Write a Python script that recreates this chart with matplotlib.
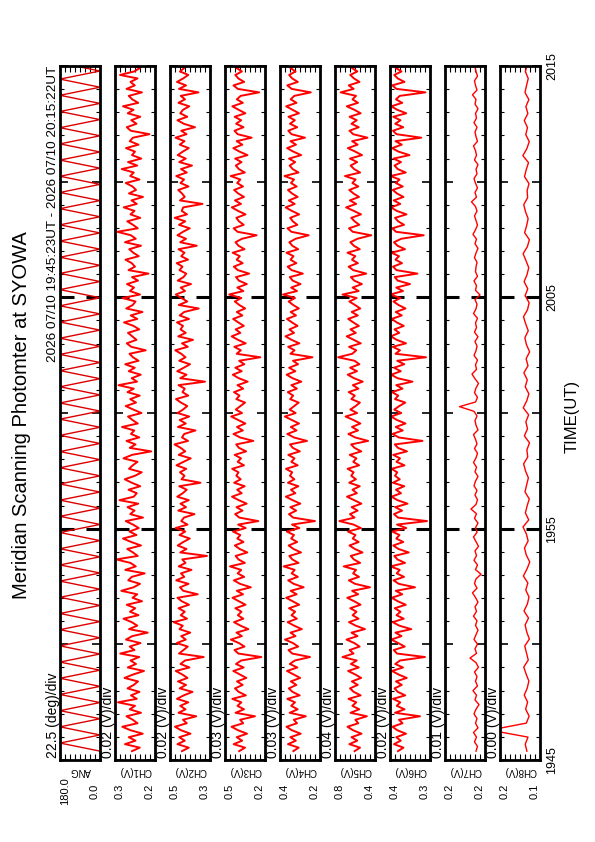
import matplotlib

matplotlib.use("Agg")

import matplotlib.pyplot as plt
import matplotlib.transforms as mtransforms
import numpy as np
from matplotlib.ticker import FixedLocator, MultipleLocator

plt.rcParams["font.family"] = ["Liberation Sans", "DejaVu Sans"]

W, H = 595, 842

title = "Meridian Scanning Photomter at SYOWA"
period = "2026 07/10 19:45:23UT - 2026 07/10 20:15:22UT"
time_ticks = [0, 10, 20, 30]  # minutes after 19:45
time_labels = ["1945", "1955", "2005", "2015"]
start_sec, end_sec = 23, 1822

panel_names = ["ANG", "CH1(V)", "CH2(V)", "CH3(V)", "CH4(V)",
               "CH5(V)", "CH6(V)", "CH7(V)", "CH8(V)"]
div_labels = ["22.5 (deg)/div", "0.02 (V)/div", "0.02 (V)/div", "0.03 (V)/div",
              "0.03 (V)/div", "0.04 (V)/div", "0.02 (V)/div", "0.01 (V)/div",
              "0.00 (V)/div"]
panel_lo = [0.0, 0.17, 0.34, 0.24, 0.18, 0.44, 0.27, 0.16, 0.130]
panel_hi = [180.0, 0.33, 0.50, 0.48, 0.42, 0.76, 0.43, 0.24, 0.162]

# scan angle turning points (seconds after 19:45:00, degrees)
ang_sec = [23, 44, 65, 86, 107, 128, 149, 170, 191, 212, 233, 254, 275, 296,
           317, 338, 359, 380, 401, 422, 443, 464, 485, 506, 527, 548, 569,
           590, 611, 632, 653, 674, 695, 716, 737, 758, 779, 800, 821, 842,
           863, 884, 905, 926, 947, 968, 989, 1010, 1031, 1052, 1073, 1094,
           1115, 1136, 1157, 1178, 1199, 1220, 1241, 1262, 1283, 1304, 1325,
           1346, 1367, 1388, 1409, 1430, 1451, 1472, 1493, 1514, 1535, 1556,
           1577, 1598, 1619, 1640, 1661, 1682, 1703, 1724, 1745, 1766, 1787,
           1808]
ang_deg = [0, 180, 0, 180, 0, 180, 0, 180, 0, 180, 0, 180, 0, 180, 0, 180,
           0, 180, 0, 180, 0, 180, 0, 180, 0, 180, 0, 180, 0, 180, 0, 180,
           0, 180, 0, 180, 0, 180, 0, 180, 0, 180, 0, 180, 0, 180, 0, 180,
           0, 180, 0, 180, 0, 180, 0, 180, 0, 180, 0, 180, 0, 180, 0, 180,
           0, 180, 0, 180, 0, 180, 0, 180, 0, 180, 0, 180, 0, 180, 0, 180,
           0, 180, 0, 180, 0, 180]

# photometer channels, mV
ch1_mv = [262, 231, 290, 248, 275, 219, 268, 301, 240, 259, 284, 226, 271, 250, 318, 243, 266, 232, 280, 255,
          238, 292, 257, 214, 279, 246, 268, 233, 309, 252, 271, 228, 286, 261, 199, 274, 241, 263, 296, 236,
          270, 249, 283, 222, 260, 241, 305, 256, 230, 277, 263, 211, 289, 247, 268, 325, 239, 258, 281, 226,
          265, 298, 244, 272, 235, 258, 287, 218, 269, 252, 280, 237, 312, 255, 243, 276, 229, 263, 291, 250,
          223, 274, 259, 240, 296, 262, 185, 271, 248, 284, 233, 266, 253, 302, 239, 260, 278, 224, 257, 287,
          246, 269, 231, 280, 255, 316, 242, 263, 227, 275, 251, 289, 236, 258, 272, 207, 265, 283, 244, 261,
          278, 233, 256, 294, 241, 267, 220, 285, 259, 248, 300, 230, 270, 254, 282, 238, 262, 196, 276, 250,
          263, 288, 235, 257, 273, 226, 290, 247, 266, 321, 239, 258, 281, 229, 268, 252, 295, 243, 264, 218,
          274, 246, 260, 287, 232, 269, 255, 303, 241, 278, 225, 262, 250, 286, 236, 271, 258, 192, 267, 283,
          244, 265, 229, 279, 256, 298, 237, 261, 275, 222, 284, 251, 268, 240, 310, 253, 230, 276, 259, 247]
ch2_mv = [452, 425, 470, 441, 463, 418, 456, 480, 433, 448, 395, 466, 438, 459, 427, 472, 445, 410, 461, 436,
          468, 430, 451, 477, 422, 458, 440, 365, 464, 446, 429, 473, 437, 455, 419, 462, 449, 485, 432, 457,
          441, 466, 424, 453, 470, 389, 447, 460, 426, 475, 443, 456, 414, 465, 438, 451, 352, 459, 434, 469,
          447, 421, 462, 439, 478, 430, 455, 444, 402, 467, 436, 458, 425, 471, 449, 433, 463, 378, 454, 442,
          460, 435, 474, 446, 417, 465, 439, 457, 482, 428, 452, 443, 398, 468, 437, 461, 423, 470, 448, 431,
          456, 476, 427, 450, 441, 466, 360, 459, 434, 471, 445, 420, 463, 438, 455, 479, 429, 452, 408, 467,
          437, 458, 448, 472, 424, 461, 443, 385, 465, 431, 454, 477, 440, 457, 416, 469, 446, 435, 462, 450,
          473, 428, 455, 442, 466, 393, 459, 436, 470, 448, 421, 464, 439, 481, 432, 453, 447, 370, 460, 441,
          452, 467, 426, 458, 444, 475, 433, 456, 412, 463, 437, 469, 449, 425, 461, 442, 478, 434, 455, 400,
          445, 470, 431, 459, 448, 423, 466, 440, 457, 386, 464, 436, 472, 447, 427, 460, 443, 468, 430, 454]
ch3_mv = [395, 360, 428, 377, 410, 348, 402, 441, 371, 389, 300, 417, 366, 405, 382, 436, 355, 398, 420, 374,
          408, 352, 391, 430, 368, 414, 383, 262, 400, 423, 363, 396, 445, 379, 411, 340, 387, 426, 370, 403,
          381, 418, 357, 397, 435, 372, 409, 325, 390, 427, 365, 404, 383, 450, 361, 399, 416, 346, 392, 421,
          369, 406, 388, 432, 356, 401, 280, 394, 419, 375, 411, 350, 397, 438, 380, 407, 362, 425, 386, 412,
          399, 437, 366, 404, 384, 422, 353, 396, 413, 310, 390, 429, 373, 408, 358, 401, 443, 378, 415, 387,
          360, 412, 393, 426, 371, 405, 344, 398, 433, 380, 418, 364, 395, 268, 410, 385, 424, 356, 402, 440,
          388, 416, 367, 400, 431, 376, 409, 359, 394, 421, 382, 455, 370, 406, 349, 397, 414, 335, 403, 427,
          374, 410, 391, 434, 363, 399, 417, 378, 290, 405, 428, 368, 396, 412, 357, 402, 439, 384, 420, 366,
          401, 425, 372, 407, 388, 446, 361, 397, 415, 381, 419, 345, 393, 430, 376, 410, 320, 404, 423, 369,
          413, 383, 422, 358, 398, 436, 373, 409, 386, 275, 403, 429, 365, 400, 418, 379, 411, 354, 396, 432]
ch4_mv = [340, 308, 372, 325, 358, 296, 349, 381, 318, 337, 265, 362, 314, 353, 330, 376, 302, 345, 367, 322,
          355, 299, 338, 378, 316, 361, 331, 240, 347, 369, 311, 342, 390, 327, 357, 289, 335, 374, 319, 351,
          329, 366, 305, 344, 383, 320, 356, 278, 338, 371, 313, 350, 332, 398, 309, 346, 364, 294, 339, 368,
          317, 353, 336, 379, 304, 348, 210, 341, 366, 323, 358, 298, 344, 385, 328, 354, 310, 372, 334, 360,
          347, 384, 314, 352, 333, 370, 301, 343, 360, 258, 337, 376, 321, 355, 306, 349, 391, 326, 362, 335,
          308, 359, 341, 373, 319, 352, 292, 345, 380, 328, 365, 312, 342, 225, 357, 333, 371, 304, 350, 387,
          336, 363, 315, 348, 378, 324, 356, 307, 341, 368, 330, 402, 318, 353, 297, 344, 361, 283, 350, 374,
          322, 357, 339, 381, 311, 346, 364, 326, 248, 352, 375, 316, 343, 359, 305, 349, 386, 332, 367, 314,
          348, 372, 320, 354, 336, 393, 309, 344, 362, 329, 366, 293, 340, 377, 324, 357, 270, 351, 370, 317,
          360, 331, 369, 306, 345, 383, 321, 356, 334, 235, 350, 376, 313, 347, 365, 327, 358, 302, 343, 379]
ch5_mv = [603, 560, 645, 582, 628, 548, 616, 660, 574, 597, 505, 636, 566, 621, 590, 652, 555, 610, 640, 578,
          625, 551, 598, 655, 570, 633, 586, 700, 612, 643, 563, 605, 668, 580, 628, 520, 594, 648, 572, 619,
          588, 638, 556, 607, 662, 575, 623, 480, 600, 649, 568, 615, 592, 690, 559, 609, 634, 540, 601, 644,
          571, 618, 596, 656, 553, 612, 725, 604, 640, 579, 627, 549, 606, 664, 585, 620, 562, 646, 593, 630,
          611, 659, 567, 614, 589, 642, 550, 603, 631, 495, 599, 653, 576, 624, 557, 613, 675, 583, 637, 595,
          561, 629, 602, 650, 573, 617, 538, 608, 658, 584, 639, 565, 604, 735, 622, 590, 647, 554, 611, 666,
          594, 636, 569, 613, 654, 578, 626, 558, 600, 645, 587, 700, 571, 619, 545, 606, 633, 510, 614, 651,
          577, 624, 597, 660, 562, 609, 637, 580, 470, 618, 648, 566, 603, 630, 552, 610, 671, 591, 641, 568,
          612, 646, 574, 621, 595, 680, 559, 607, 635, 583, 640, 544, 598, 657, 579, 623, 500, 615, 644, 570,
          628, 586, 643, 555, 605, 666, 576, 620, 592, 715, 611, 650, 564, 608, 638, 581, 625, 553, 601, 659]
ch6_mv = [398, 376, 414, 387, 405, 366, 401, 420, 380, 394, 310, 410, 372, 403, 389, 418, 369, 399, 412, 383,
          406, 363, 396, 422, 378, 409, 390, 290, 402, 415, 371, 397, 425, 384, 408, 345, 393, 419, 375, 404,
          388, 411, 367, 399, 423, 381, 407, 330, 395, 416, 374, 403, 391, 428, 370, 400, 413, 355, 396, 417,
          377, 405, 392, 421, 365, 402, 282, 398, 414, 382, 409, 360, 400, 424, 386, 406, 373, 418, 391, 410,
          401, 424, 372, 404, 390, 417, 362, 398, 411, 300, 395, 420, 379, 407, 368, 402, 426, 385, 413, 393,
          369, 410, 397, 422, 380, 405, 340, 400, 425, 387, 414, 373, 401, 286, 408, 390, 419, 366, 403, 427,
          393, 412, 375, 403, 423, 383, 407, 368, 396, 416, 388, 429, 378, 405, 350, 399, 411, 320, 404, 418,
          382, 408, 394, 424, 370, 400, 414, 385, 295, 406, 421, 374, 397, 410, 364, 403, 426, 389, 415, 376,
          402, 419, 379, 407, 392, 428, 367, 399, 412, 386, 416, 352, 396, 422, 383, 408, 305, 404, 418, 377,
          409, 388, 417, 365, 401, 425, 381, 406, 391, 288, 404, 421, 372, 399, 413, 384, 407, 361, 396, 423]
ch7_mv = [178, 175, 181, 177, 183, 174, 179, 176, 182, 178, 172, 180, 177, 184, 175,
          179, 176, 181, 173, 178, 190, 177, 180, 175, 182, 178, 174, 179, 176, 183,
          177, 180, 174, 179, 185, 176, 181, 178, 168, 179, 175, 182, 177, 180, 173,
          178, 183, 176, 179, 174, 181, 177, 188, 178, 175, 180, 176, 182, 179, 174,
          180, 177, 183, 178, 175, 181, 176, 179, 183, 174, 178, 180, 176, 182, 211,
          179, 175, 181, 178, 173, 180, 186, 177, 179, 175, 182, 178, 176, 180, 174,
          181, 177, 179, 175, 183, 178, 176, 180, 170, 179, 177, 182, 175, 179, 178,
          176, 181, 178, 174, 180, 177, 184, 179, 175, 178, 181, 176, 179, 187, 177,
          180, 175, 179, 182, 176, 178, 174, 181, 177, 179, 183, 175, 178, 180, 176,
          182, 177, 179, 174, 180, 178, 185, 176, 179, 181, 175, 178, 180, 177, 179]
ch8_mv = [140.5, 141.8, 139.6, 170.0, 140.9, 138.7, 141.5, 139.9, 142.6, 140.2,
          138.9, 141.1, 143.0, 139.4, 140.8, 142.2, 138.5, 140.6, 141.9, 139.2,
          142.8, 140.1, 138.8, 141.4, 139.7, 143.3, 140.4, 138.2, 141.0, 142.4,
          139.5, 140.9, 143.6, 139.0, 141.7, 140.3, 138.6, 142.0, 140.7, 139.3,
          141.6, 143.1, 139.8, 140.5, 138.4, 142.5, 140.0, 141.3, 139.1, 143.4,
          140.6, 138.9, 141.8, 140.2, 142.9, 139.6, 141.1, 138.3, 140.8, 142.1,
          139.4, 141.5, 143.2, 140.0, 138.7, 141.9, 139.8, 142.7, 140.4, 139.0,
          141.2, 143.5, 140.1, 138.5, 142.3, 140.7, 139.5, 141.6, 143.0, 139.9,
          140.3, 138.8, 142.4, 141.0, 139.2, 143.7, 140.5, 138.6, 141.4, 140.0,
          142.6, 139.7, 141.3, 138.9, 142.0, 140.8, 139.4, 141.7, 140.2, 140.9]

channels = [ch1_mv, ch2_mv, ch3_mv, ch4_mv, ch5_mv, ch6_mv, ch7_mv, ch8_mv]
line_widths = [1.4, 1.4, 1.4, 1.4, 1.4, 1.4, 1.0, 1.0]


def fx(x):
    return x / W


def fy(y):
    return 1 - y / H


fig = plt.figure(figsize=(W / 100, H / 100), dpi=100)

top_px, bottom_px = 66, 760
axes = []
for i, name in enumerate(panel_names):
    left = 60 + 55 * i
    ax = fig.add_axes([fx(left), fy(bottom_px), 40 / W, (bottom_px - top_px) / H])
    lo, hi = panel_lo[i], panel_hi[i]
    if i == 0:
        ax.plot(ang_deg, np.array(ang_sec) / 60, color="#dd0000", lw=1.0)
    else:
        vals = np.array(channels[i - 1]) / 1000
        t = np.linspace(start_sec, end_sec, len(vals)) / 60
        ax.plot(vals, t, color="red", lw=line_widths[i - 1])
    ax.set_xlim(hi, lo)
    ax.set_ylim(0, 30)
    for s in ax.spines.values():
        s.set_linewidth(2.0)

    ax.xaxis.set_major_locator(FixedLocator(np.linspace(lo, hi, 9)))
    ax.tick_params(axis="x", direction="in", top=True, bottom=True, length=4,
                   width=0.8, labelbottom=False)
    ax.yaxis.set_major_locator(MultipleLocator(5))
    ax.yaxis.set_minor_locator(MultipleLocator(1))
    ax.tick_params(axis="y", which="major", direction="in", left=True, right=True,
                   length=6, width=1.2, labelleft=False)
    ax.tick_params(axis="y", which="minor", direction="in", left=True, right=True,
                   length=3, width=0.8)
    for side in ("left", "right"):
        sec = ax.secondary_yaxis(side)
        sec.set_yticks([10, 20])
        sec.tick_params(direction="in", length=10, width=2.2,
                        labelleft=False, labelright=False)
        for s in sec.spines.values():
            s.set_visible(False)

    # per-panel annotations
    fig.text(fx(left - 7), fy(758), div_labels[i], rotation=90,
             ha="center", va="bottom", fontsize=10)
    fig.text(fx(left + 20), fy(771), name, rotation=180,
             ha="center", va="center", fontsize=7)
    fig.text(fx(left), fy(791), f"{hi:.1f}", rotation=90,
             ha="left", va="center", fontsize=8)
    fig.text(fx(left + 40), fy(791), f"{lo:.1f}", rotation=90,
             ha="right", va="center", fontsize=8)
    axes.append(ax)

trans = mtransforms.blended_transform_factory(fig.transFigure, axes[-1].transData)
for t, lab in zip(time_ticks, time_labels):
    fig.text(fx(552), t, lab, transform=trans, rotation=90,
             ha="center", va="center", fontsize=9)

fig.text(fx(572), fy(416), "TIME(UT)", rotation=90, ha="center", va="center",
         fontsize=12)
fig.text(fx(53), fy(66), period, rotation=90, ha="center", va="top", fontsize=9.7)
fig.text(fx(22), fy(415), title, rotation=90, ha="center", va="center",
         fontsize=14.5)

fig.savefig("out.png", dpi=100)
plt.close(fig)
